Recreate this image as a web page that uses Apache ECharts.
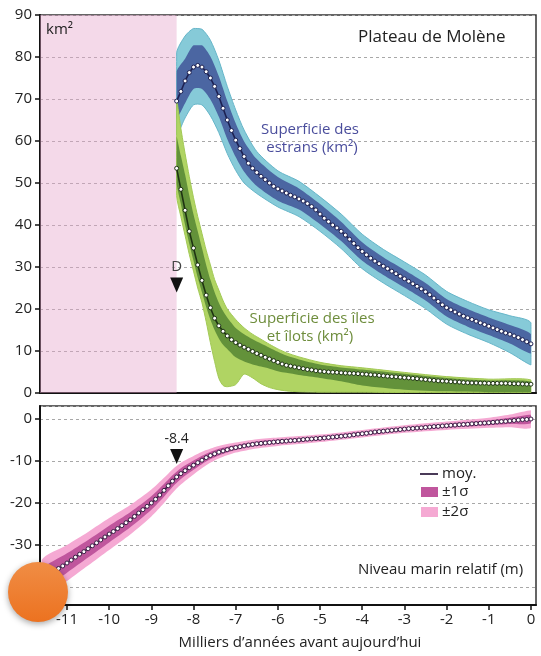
<!DOCTYPE html>
<html><head><meta charset="utf-8">
<script src="https://cdn.jsdelivr.net/npm/echarts@6/dist/echarts.min.js"></script>
<style>html,body{margin:0;padding:0;background:#fff}#c{width:541px;height:656px}</style>
</head><body><div id="c"></div>
<script>
// ---------- DATA ----------
const AGES = [-11.6,-11.5,-11.4,-11.3,-11.2,-11.1,-11.0,-10.9,-10.8,-10.7,
  -10.6,-10.5,-10.4,-10.3,-10.2,-10.1,-10.0,-9.9,-9.8,-9.7,
  -9.6,-9.5,-9.4,-9.3,-9.2,-9.1,-9.0,-8.9,-8.8,-8.7,
  -8.6,-8.5,-8.4,-8.3,-8.2,-8.1,-8.0,-7.9,-7.8,-7.7,
  -7.6,-7.5,-7.4,-7.3,-7.2,-7.1,-7.0,-6.9,-6.8,-6.7,
  -6.6,-6.5,-6.4,-6.3,-6.2,-6.1,-6.0,-5.9,-5.8,-5.7,
  -5.6,-5.5,-5.4,-5.3,-5.2,-5.1,-5.0,-4.9,-4.8,-4.7,
  -4.6,-4.5,-4.4,-4.3,-4.2,-4.1,-4.0,-3.9,-3.8,-3.7,
  -3.6,-3.5,-3.4,-3.3,-3.2,-3.1,-3.0,-2.9,-2.8,-2.7,
  -2.6,-2.5,-2.4,-2.3,-2.2,-2.1,-2.0,-1.9,-1.8,-1.7,
  -1.6,-1.5,-1.4,-1.3,-1.2,-1.1,-1.0,-0.9,-0.8,-0.7,
  -0.6,-0.5,-0.4,-0.3,-0.2,-0.1,0];
// top-panel series start at -8.4 ka (index 32 of AGES)
const TOP_START = 32;

// Superficie des estrans (km2), mean
const estransMean = [69.5,71.8,74.3,76.3,77.6,78.0,77.6,76.5,75.0,73.0,
  70.6,67.8,65.0,62.5,60.2,58.2,56.3,54.7,53.5,52.5,
  51.6,50.8,50.0,49.2,48.6,48.1,47.6,47.1,46.7,46.2,
  45.7,45.1,44.4,43.6,42.6,41.6,40.8,40.0,39.3,38.5,
  37.6,36.6,35.6,34.6,33.7,32.9,32.1,31.4,30.8,30.2,
  29.6,29.0,28.4,27.8,27.2,26.6,26.0,25.4,24.8,24.1,
  23.4,22.6,21.8,21.0,20.3,19.8,19.3,18.8,18.3,17.9,
  17.5,17.1,16.7,16.3,15.9,15.5,15.1,14.7,14.3,14.0,
  13.6,13.2,12.7,12.2,11.7];
const estransBandX = [-8.4,-8.2,-8.0,-7.8,-7.6,-7.4,-7.2,-7.0,-6.8,-6.5,-6.0,-5.5,-5.0,-4.5,-4.0,-3.5,-3.0,-2.5,-2.0,-1.5,-1.0,-0.5,0];
const estrans1Lo = [65.5,69.0,72.4,72.4,69.9,65.8,60.5,56.2,52.7,49.3,45.8,43.7,40.2,36.2,31.5,28.1,25.1,22.0,18.2,15.8,13.8,11.8,9.4];
const estrans1Hi = [76.5,79.6,82.8,82.8,80.1,75.4,69.5,64.2,59.9,55.7,51.4,48.7,45.0,40.8,35.9,32.3,29.3,26.2,22.4,20.0,18.0,16.2,14.0];
const estrans2Lo = [61.5,65.5,68.6,68.6,66.0,62.0,57.0,53.0,50.0,47.5,44.3,42.0,38.5,34.4,29.6,26.2,23.2,20.1,16.4,14.0,12.0,9.6,6.7];
const estrans2Hi = [81.0,85.0,86.8,86.6,84.0,79.2,73.0,67.4,62.6,57.5,52.9,50.4,46.7,42.6,37.8,34.2,31.2,28.1,24.2,21.8,19.8,18.4,16.7];

// Superficie des iles et ilots (km2), mean
const islesMean = [53.5,48.5,43.5,38.5,34.5,30.5,26.8,23.3,20.3,17.8,
  16.0,14.7,13.6,12.7,12.0,11.4,10.9,10.4,9.9,9.4,
  9.0,8.5,8.1,7.7,7.3,6.9,6.6,6.4,6.2,6.0,
  5.8,5.6,5.5,5.3,5.2,5.1,5.0,4.95,4.9,4.8,
  4.75,4.7,4.65,4.6,4.5,4.45,4.35,4.3,4.2,4.1,
  4.0,3.9,3.85,3.75,3.65,3.6,3.5,3.4,3.3,3.2,
  3.1,3.0,2.9,2.85,2.8,2.7,2.65,2.6,2.5,2.45,
  2.4,2.4,2.35,2.35,2.3,2.3,2.3,2.3,2.3,2.25,
  2.2,2.2,2.15,2.1,2.1];
const islesBandX = [-8.4,-8.3,-8.2,-8.1,-8.0,-7.9,-7.8,-7.7,-7.6,-7.5,-7.4,-7.3,-7.2,-7.0,-6.8,-6.6,-6.4,-6.2,-6.0,-5.8,-5.5,-5.0,-4.5,-4.0,-3.0,-2.0,-1.0,0];
const isles2Hi = [70,63,57,51.5,46.5,42,38,34,30.5,27,24.5,22,20,17.5,15.5,14,12.8,11.6,10.5,9.6,8.6,7.3,6.5,6.0,4.9,3.9,3.3,3.1];
const isles1Hi = [61,56.5,52,47,42.5,38.5,34.5,30.5,27,24,21.5,19.5,18,15.5,14,12.8,11.8,10.8,9.8,8.9,8.0,6.8,6.1,5.6,4.6,3.6,3.0,2.7];
const isles1Lo = [50,45,40,35.5,31.5,27.5,24,20.5,17.5,15,13,11.5,10.5,8.5,7.5,6.8,6.3,5.8,5.2,4.8,4.3,3.6,2.8,1.8,0.8,0.4,0.2,0.2];
const isles2Lo = [47,42,37.5,33,29,25,21.5,17,12,7.5,3.5,1.8,1.5,2.0,4.5,3.6,2.2,1.3,0.8,0.5,0.3,0.2,0.2,0.2,0.1,0.1,0.1,0.1];

// Niveau marin relatif (m), mean
const seaMean = [-38.4,-37.7,-37.0,-36.3,-35.6,-35.0,-34.3,-33.6,-32.9,-32.2,
  -31.6,-30.9,-30.2,-29.5,-28.8,-28.1,-27.4,-26.8,-26.1,-25.4,
  -24.7,-24.0,-23.2,-22.4,-21.6,-20.8,-20.0,-19.1,-18.1,-17.0,
  -15.9,-14.8,-13.8,-13.0,-12.3,-11.6,-11.0,-10.4,-9.8,-9.2,
  -8.7,-8.3,-7.9,-7.6,-7.3,-7.0,-6.8,-6.6,-6.4,-6.2,
  -6.05,-5.9,-5.8,-5.7,-5.6,-5.5,-5.4,-5.3,-5.25,-5.15,
  -5.1,-5.0,-4.9,-4.8,-4.75,-4.65,-4.6,-4.5,-4.4,-4.3,
  -4.2,-4.1,-4.0,-3.9,-3.75,-3.6,-3.5,-3.4,-3.25,-3.1,
  -3.0,-2.9,-2.8,-2.7,-2.6,-2.5,-2.4,-2.3,-2.25,-2.15,
  -2.1,-2.0,-1.9,-1.8,-1.75,-1.65,-1.6,-1.5,-1.45,-1.35,
  -1.3,-1.25,-1.15,-1.1,-1.0,-0.95,-0.9,-0.8,-0.7,-0.6,
  -0.55,-0.45,-0.35,-0.25,-0.15,-0.1,0];
const seaBandX   = [-11.6,-11,-10.5,-10,-9.5,-9,-8.7,-8.5,-8.3,-8,-7.7,-7.4,-7,-6.5,-6,-5,-4,-3,-2,-1,-0.5,0];
const seaBandMid = [-38.4,-34.3,-30.9,-27.4,-24.0,-20.0,-17.0,-14.8,-13.0,-11.0,-9.2,-7.9,-6.8,-5.9,-5.4,-4.6,-3.5,-2.4,-1.6,-0.9,-0.45,0];
const seaSigma1  = [2.5,2.3,2.1,2.0,1.8,1.6,1.5,1.4,1.3,1.1,0.9,0.8,0.6,0.55,0.5,0.45,0.45,0.45,0.5,0.6,0.75,1.0];
const seaSigma2  = [4.8,4.3,4.0,3.8,3.5,3.2,3.0,2.8,2.6,2.2,1.8,1.5,1.2,1.1,1.0,0.9,0.9,0.9,1.0,1.2,1.5,2.1];

// annotations
const shadeEnd = -8.4;                 // end of pink shaded period
const dMarker = {x: -8.4, y: 25.7, label: 'D'};
const seaMarker = {x: -8.4, y: -8.9, label: '-8.4'};
const topYTicks = [0, 90, 10];         // min, max, interval
const xMin = -11.64, xMax = 0.12;
const seaYMin = -44.3, seaYMax = 3.1;

// ---------- CHART ----------
const FONT = "'Open Sans', 'Noto Sans', sans-serif";
const chart = echarts.init(document.getElementById('c'), null, {renderer: 'canvas'});
const NO_EXPAND = [[Infinity, Infinity], [-Infinity, -Infinity]];

// band drawn as one filled polygon between lower and upper bounds, through the axes' scales
function band(xs, lo, hi, color, xi, z, edge) {
  return {
    type: 'custom', xAxisIndex: xi, yAxisIndex: xi, z: z, silent: true, clip: true,
    data: xs.map((x, i) => [x, lo[i], hi[i]]),
    renderItem: function (params, api) {
      if (params.dataIndex !== 0) return null;
      const top = xs.map((x, i) => api.coord([x, hi[i]]));
      const bot = xs.map((x, i) => api.coord([x, lo[i]])).reverse();
      return {
        type: 'polygon',
        shape: {points: top.concat(bot), smooth: 0.25, smoothConstraint: NO_EXPAND},
        style: {fill: color, stroke: edge || null, lineWidth: edge ? 1 : 0}
      };
    }
  };
}
function meanLine(xs, ys, color, xi, z, extra) {
  return Object.assign({type: 'line', xAxisIndex: xi, yAxisIndex: xi,
    data: xs.map((x, i) => [x, ys[i]]), symbol: 'circle', symbolSize: 4, showSymbol: true,
    lineStyle: {color: color, width: 1.6}, itemStyle: {color: '#fff', borderColor: color, borderWidth: 1},
    z: z, silent: true}, extra || {});
}
const topAges = AGES.slice(TOP_START);
const triPath = 'path://M0,0L12,0L6,13Z';

const series = [];
// blue (estrans)
series.push(band(estransBandX, estrans2Lo, estrans2Hi, '#86cad8', 0, 2, '#66b6c9'));
series.push(band(estransBandX, estrans1Lo, estrans1Hi, '#4b66a2', 0, 3));
// green (isles)
series.push(band(islesBandX, isles2Lo, isles2Hi, '#b0d463', 0, 4, '#a2c955'));
series.push(band(islesBandX, isles1Lo, isles1Hi, '#63923a', 0, 5));
series.push(meanLine(topAges, estransMean, '#1d2152', 0, 8, {
  markArea: {silent: true, itemStyle: {color: 'rgba(228,165,203,0.42)'},
    data: [[{xAxis: xMin}, {xAxis: shadeEnd}]]},
  markPoint: {silent: true, data: [{coord: [dMarker.x, dMarker.y], symbol: triPath, symbolSize: [13, 15],
    itemStyle: {color: '#111'},
    label: {show: true, formatter: dMarker.label, position: 'top', distance: 3, color: '#444', fontSize: 15, fontFamily: FONT}}]}
}));
series.push(meanLine(topAges, islesMean, '#1e3312', 0, 8));
// sea level
series.push(band(seaBandX, seaBandMid.map((m, i) => m - seaSigma2[i]), seaBandMid.map((m, i) => m + seaSigma2[i]), '#f5a9d3', 1, 2));
series.push(band(seaBandX, seaBandMid.map((m, i) => m - seaSigma1[i]), seaBandMid.map((m, i) => m + seaSigma1[i]), '#c0569d', 1, 3));
series.push(meanLine(AGES, seaMean, '#3a1d44', 1, 8, {
  markPoint: {silent: true, data: [{coord: [seaMarker.x, seaMarker.y], symbol: triPath, symbolSize: [13, 15],
    itemStyle: {color: '#111'},
    label: {show: true, formatter: seaMarker.label, position: 'top', distance: 3, color: '#222', fontSize: 14, fontFamily: FONT}}]}
}));

const axisLineStyle = {show: true, onZero: false, lineStyle: {color: '#111', width: 2}};
const gridLine = {show: true, lineStyle: {color: '#a8a8a8', width: 1, type: [3, 3]}};
const labelStyle = {color: '#222', fontSize: 15, fontFamily: FONT, margin: 8};

const option = {
  animation: false,
  backgroundColor: '#fff',
  grid: [
    {left: 40, right: 5, top: 15, height: 378, show: true, borderColor: '#333', borderWidth: 1.5, backgroundColor: '#fff'},
    {left: 40, right: 5, top: 406, height: 199, show: true, borderColor: '#333', borderWidth: 1.5, backgroundColor: '#fff'}
  ],
  xAxis: [
    {type: 'value', gridIndex: 0, min: xMin, max: xMax, axisLine: axisLineStyle,
     axisTick: {show: false}, axisLabel: {show: false}, splitLine: {show: false}},
    {type: 'value', gridIndex: 1, min: xMin, max: xMax, splitNumber: 12, axisLine: axisLineStyle,
     axisTick: {show: true, inside: false, length: 5, lineStyle: {color: '#111', width: 1.5}},
     axisLabel: Object.assign({showMinLabel: false, showMaxLabel: false}, labelStyle, {margin: 7}),
     splitLine: {show: false}}
  ],
  yAxis: [
    {type: 'value', gridIndex: 0, min: topYTicks[0], max: topYTicks[1], interval: topYTicks[2],
     axisLine: axisLineStyle, axisTick: {show: true, length: 5, lineStyle: {color: '#111', width: 1.5}},
     axisLabel: labelStyle, splitLine: gridLine},
    {type: 'value', gridIndex: 1, min: seaYMin, max: seaYMax, splitNumber: 5,
     axisLine: axisLineStyle, axisTick: {show: true, length: 5, lineStyle: {color: '#111', width: 1.5}},
     axisLabel: Object.assign({showMinLabel: false, showMaxLabel: false}, labelStyle), splitLine: gridLine}
  ],
  series: series,
  graphic: [
    {type: 'text', x: 46, y: 30, z: 50, style: {text: 'km²', fill: '#222', fontSize: 15, fontFamily: FONT, verticalAlign: 'middle'}},
    {type: 'text', x: 358, y: 37, z: 50, style: {text: 'Plateau de Molène', fill: '#222', fontSize: 17, fontFamily: FONT, verticalAlign: 'middle'}},
    {type: 'text', x: 310, y: 130, z: 50, style: {text: 'Superficie des', fill: '#4a4d9c', fontSize: 15, fontFamily: FONT, align: 'center', verticalAlign: 'middle'}},
    {type: 'text', x: 312, y: 148, z: 50, style: {text: 'estrans (km²)', fill: '#4a4d9c', fontSize: 15, fontFamily: FONT, align: 'center', verticalAlign: 'middle'}},
    {type: 'text', x: 312, y: 319, z: 50, style: {text: 'Superficie des îles', fill: '#6e8d3c', fontSize: 15, fontFamily: FONT, align: 'center', verticalAlign: 'middle'}},
    {type: 'text', x: 310, y: 337, z: 50, style: {text: 'et îlots (km²)', fill: '#6e8d3c', fontSize: 15, fontFamily: FONT, align: 'center', verticalAlign: 'middle'}},
    {type: 'line', shape: {x1: 420, y1: 474, x2: 438, y2: 474}, style: {stroke: '#4a3a58', lineWidth: 2}, z: 50},
    {type: 'text', x: 442, y: 474, z: 50, style: {text: 'moy.', fill: '#222', fontSize: 15, fontFamily: FONT, verticalAlign: 'middle'}},
    {type: 'rect', shape: {x: 421, y: 487, width: 17, height: 10}, style: {fill: '#c0569d'}, z: 50},
    {type: 'text', x: 442, y: 492, z: 50, style: {text: '±1σ', fill: '#222', fontSize: 15, fontFamily: FONT, verticalAlign: 'middle'}},
    {type: 'rect', shape: {x: 421, y: 507, width: 17, height: 10}, style: {fill: '#f5a9d3'}, z: 50},
    {type: 'text', x: 442, y: 512, z: 50, style: {text: '±2σ', fill: '#222', fontSize: 15, fontFamily: FONT, verticalAlign: 'middle'}},
    {type: 'text', x: 358, y: 570, z: 50, style: {text: 'Niveau marin relatif (m)', fill: '#222', fontSize: 15, fontFamily: FONT, verticalAlign: 'middle'}},
    {type: 'text', x: 300, y: 643, z: 50, style: {text: 'Milliers d’années avant aujourd’hui', fill: '#222', fontSize: 15, fontFamily: FONT, align: 'center', verticalAlign: 'middle'}},
    {type: 'circle', shape: {cx: 38, cy: 592, r: 30}, z: 100,
     style: {fill: new echarts.graphic.LinearGradient(0, 0, 0, 1, [{offset: 0, color: '#f08d45'}, {offset: 1, color: '#ec7220'}]),
       shadowBlur: 6, shadowColor: 'rgba(0,0,0,0.35)', shadowOffsetY: 2}}
  ]
};
chart.setOption(option);
</script></body></html>
